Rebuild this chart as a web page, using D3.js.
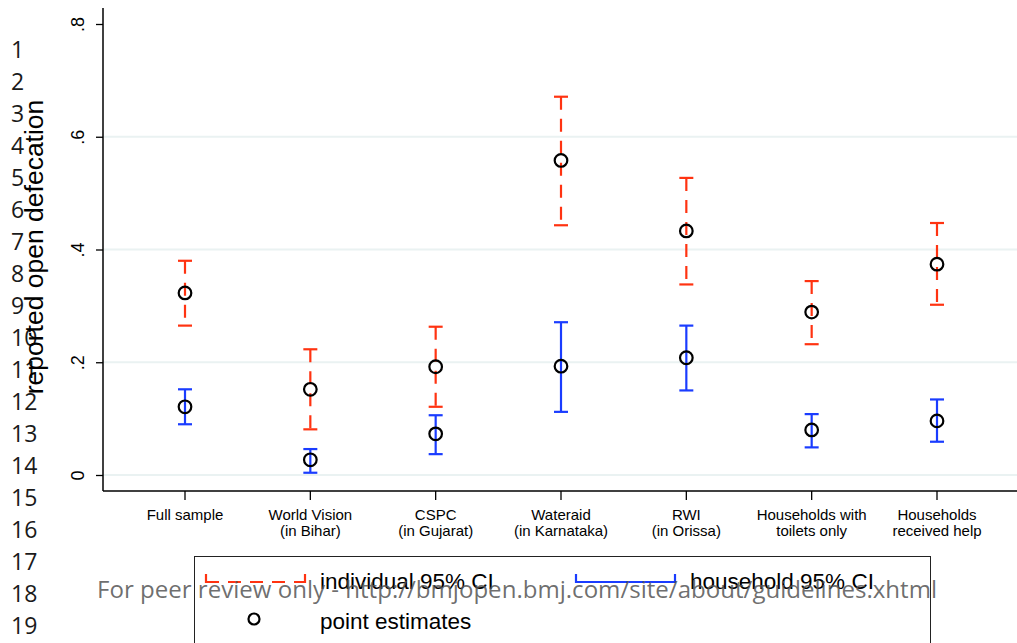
<!DOCTYPE html>
<html>
<head>
<meta charset="utf-8">
<title>reported open defecation</title>
<script src="https://cdn.jsdelivr.net/npm/d3@7"></script>
<style>
  body { margin: 0; background: #fff; }
  svg { display: block; }
</style>
</head>
<body>
<script>
// categories (two-line labels)
var categories = [
  ["Full sample"],
  ["World Vision", "(in Bihar)"],
  ["CSPC", "(in Gujarat)"],
  ["Wateraid", "(in Karnataka)"],
  ["RWI", "(in Orissa)"],
  ["Households with", "toilets only"],
  ["Households", "received help"]
];
// individual estimates + 95% CI
var indivEst = [0.323, 0.152, 0.192, 0.558, 0.433, 0.289, 0.374];
var indivLo  = [0.265, 0.081, 0.121, 0.443, 0.338, 0.232, 0.302];
var indivHi  = [0.380, 0.223, 0.263, 0.671, 0.527, 0.344, 0.447];
// household estimates + 95% CI
var hhEst = [0.121, 0.027, 0.073, 0.193, 0.208, 0.080, 0.096];
var hhLo  = [0.090, 0.004, 0.037, 0.112, 0.150, 0.049, 0.059];
var hhHi  = [0.152, 0.046, 0.106, 0.271, 0.265, 0.108, 0.134];
var yTicks = [0, 0.2, 0.4, 0.6, 0.8];
var yTickLabels = ["0", ".2", ".4", ".6", ".8"];
var lineNumbers = d3.range(1, 20);

var width = 1017, height = 643;
var red = "#ff3311", blue = "#1a3cff";

var svg = d3.select("body").append("svg")
  .attr("width", width).attr("height", height);

var x = d3.scaleLinear().domain([1, 7]).range([185, 937]);
var y = d3.scaleLinear().domain([0, 0.8]).range([475, 24]);
var axisY = 491, axisX = 103;

// manuscript line numbers
svg.append("g").selectAll("text").data(lineNumbers).enter().append("text")
  .attr("x", 11)
  .attr("y", function(d){ return 58 + (d - 1) * 32; })
  .attr("font-family", "Open Sans")
  .attr("font-size", 23)
  .attr("fill", "#1a1a1a")
  .text(function(d){ return d; });

// grid lines
svg.append("g").selectAll("line").data(yTicks.slice(0, 4)).enter().append("line")
  .attr("x1", axisX).attr("x2", width)
  .attr("y1", function(d){ return y(d); }).attr("y2", function(d){ return y(d); })
  .attr("stroke", "#eaf2f2").attr("stroke-width", 2);

// y axis
var yAxis = svg.append("g").attr("transform", "translate(" + axisX + ",0)")
  .call(d3.axisLeft(y).tickValues(yTicks).tickSize(7)
    .tickFormat(function(d, i){ return yTickLabels[i]; }));
yAxis.select(".domain").remove();
yAxis.append("line").attr("x1", 0).attr("x2", 0).attr("y1", 8).attr("y2", axisY)
  .attr("stroke", "#000").attr("stroke-width", 1.5);
yAxis.selectAll(".tick line").attr("stroke", "#000").attr("stroke-width", 1.3);
yAxis.selectAll(".tick text")
  .attr("x", null).attr("dy", null)
  .attr("transform", "translate(-19,0) rotate(-90)")
  .attr("text-anchor", "middle")
  .attr("font-family", "Liberation Sans")
  .attr("font-size", 18)
  .attr("fill", "#000");

svg.append("text")
  .attr("transform", "translate(43,247) rotate(-90)")
  .attr("text-anchor", "middle")
  .attr("font-family", "Liberation Sans")
  .attr("font-size", 26.5)
  .text("reported open defecation");

// x axis
svg.append("line").attr("x1", axisX).attr("x2", width).attr("y1", axisY).attr("y2", axisY)
  .attr("stroke", "#000").attr("stroke-width", 1.5);
var xt = svg.append("g").selectAll("g").data(categories).enter().append("g")
  .attr("transform", function(d, i){ return "translate(" + x(i + 1) + "," + axisY + ")"; });
xt.append("line").attr("y1", 0).attr("y2", 9).attr("stroke", "#000").attr("stroke-width", 1.3);
xt.each(function(d){
  var t = d3.select(this).append("text")
    .attr("text-anchor", "middle")
    .attr("font-family", "Liberation Sans")
    .attr("font-size", 15);
  d.forEach(function(s, k){
    t.append("tspan").attr("x", 0).attr("y", 29 + k * 16).text(s);
  });
});

// CI bars
function drawCI(lo, hi, color, dash) {
  var g = svg.append("g").attr("stroke", color).attr("stroke-width", 2.2).attr("fill", "none");
  var cw = 7;
  lo.forEach(function(l, i){
    var cx = x(i + 1);
    g.append("line").attr("x1", cx).attr("x2", cx).attr("y1", y(hi[i])).attr("y2", y(l))
      .attr("stroke-dasharray", dash);
    g.append("line").attr("x1", cx - cw).attr("x2", cx + cw).attr("y1", y(hi[i])).attr("y2", y(hi[i]));
    g.append("line").attr("x1", cx - cw).attr("x2", cx + cw).attr("y1", y(l)).attr("y2", y(l));
  });
}
drawCI(indivLo, indivHi, red, "13,9");
drawCI(hhLo, hhHi, blue, null);

function drawPoints(vals) {
  svg.append("g").selectAll("circle").data(vals).enter().append("circle")
    .attr("cx", function(d, i){ return x(i + 1); })
    .attr("cy", function(d){ return y(d); })
    .attr("r", 6.3)
    .attr("fill", "none").attr("stroke", "#000").attr("stroke-width", 2.2);
}
drawPoints(indivEst);
drawPoints(hhEst);

// legend
var lg = svg.append("g");
lg.append("rect").attr("x", 194.5).attr("y", 556.5).attr("width", 736).attr("height", 100)
  .attr("fill", "#fff").attr("stroke", "#222").attr("stroke-width", 1);
function legendCap(x0, x1, yy, color, dash) {
  lg.append("line").attr("x1", x0).attr("x2", x1).attr("y1", yy).attr("y2", yy)
    .attr("stroke", color).attr("stroke-width", 2.2).attr("stroke-dasharray", dash);
  [x0, x1].forEach(function(xx){
    lg.append("line").attr("x1", xx).attr("x2", xx).attr("y1", yy - 8).attr("y2", yy + 1)
      .attr("stroke", color).attr("stroke-width", 2.2);
  });
}
legendCap(206, 305, 582, red, "13,9");
legendCap(576, 675, 582, blue, null);
lg.append("circle").attr("cx", 254).attr("cy", 619).attr("r", 5.5)
  .attr("fill", "none").attr("stroke", "#000").attr("stroke-width", 2.2);
var legText = [["individual 95% CI", 320, 589], ["household 95% CI", 690, 589], ["point estimates", 320, 629]];
lg.selectAll("text.lt").data(legText).enter().append("text")
  .attr("x", function(d){ return d[1]; }).attr("y", function(d){ return d[2]; })
  .attr("font-family", "Liberation Sans").attr("font-size", 22.5)
  .text(function(d){ return d[0]; });

// watermark
svg.append("text")
  .attr("x", 97).attr("y", 598)
  .attr("font-family", "Open Sans").attr("font-size", 24)
  .attr("fill", "#555").attr("fill-opacity", 0.85)
  .attr("textLength", 840).attr("lengthAdjust", "spacingAndGlyphs")
  .text("For peer review only - http://bmjopen.bmj.com/site/about/guidelines.xhtml");
</script>
</body>
</html>
